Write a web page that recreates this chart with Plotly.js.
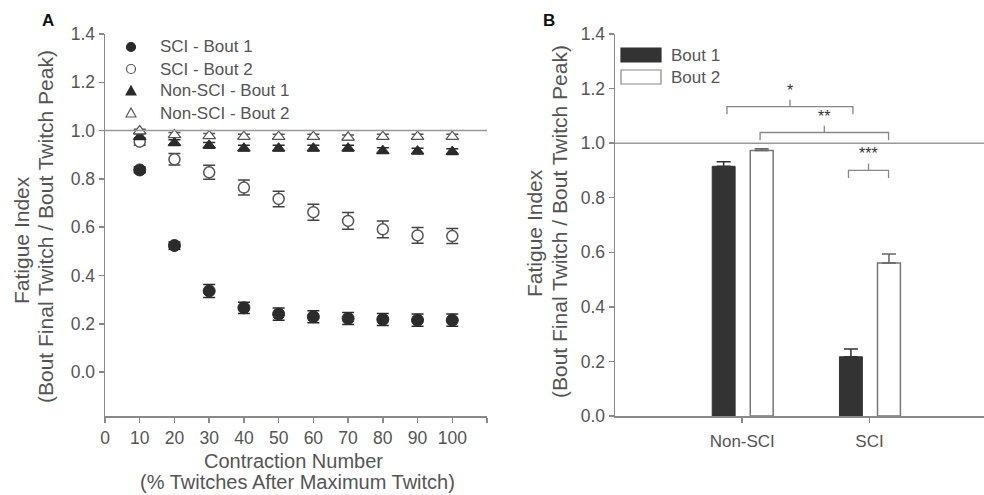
<!DOCTYPE html>
<html>
<head>
<meta charset="utf-8">
<script src="https://cdn.plot.ly/plotly-3.0.1.min.js"></script>
<style>html,body{margin:0;padding:0;background:#fff;}#chart{width:984px;height:495px;}</style>
</head>
<body>
<div id="chart"></div>
<script>
// Panel A data
const contraction = [10, 20, 30, 40, 50, 60, 70, 80, 90, 100];
const sciBout1 = [0.837, 0.524, 0.336, 0.266, 0.240, 0.229, 0.222, 0.218, 0.215, 0.215];
const sciBout1Err = [0.012, 0.015, 0.027, 0.023, 0.025, 0.025, 0.025, 0.025, 0.025, 0.025];
const sciBout2 = [0.954, 0.881, 0.827, 0.764, 0.717, 0.662, 0.626, 0.591, 0.566, 0.563];
const sciBout2Err = [0.015, 0.024, 0.029, 0.031, 0.032, 0.033, 0.035, 0.035, 0.033, 0.031];
const nonBout1 = [0.975, 0.950, 0.939, 0.927, 0.927, 0.927, 0.927, 0.917, 0.915, 0.913];
const nonBout1Err = [0.012, 0.012, 0.012, 0.012, 0.012, 0.012, 0.012, 0.012, 0.012, 0.012];
const nonBout2 = [0.998, 0.982, 0.978, 0.975, 0.975, 0.975, 0.972, 0.975, 0.975, 0.975];
const nonBout2Err = [0.008, 0.010, 0.010, 0.010, 0.010, 0.010, 0.010, 0.010, 0.010, 0.010];
const seriesNamesA = ['SCI - Bout 1', 'SCI - Bout 2', 'Non-SCI - Bout 1', 'Non-SCI - Bout 2'];
const xTickVals = [0, 10, 20, 30, 40, 50, 60, 70, 80, 90, 100, 110];
const xTickText = ['0', '10', '20', '30', '40', '50', '60', '70', '80', '90', '100', ''];
const yTickVals = [0, 0.2, 0.4, 0.6, 0.8, 1.0, 1.2, 1.4];
const xTitleA = ['Contraction Number', '(% Twitches After Maximum Twitch)'];
const yTitleLines = ['Fatigue Index', '(Bout Final Twitch / Bout Twitch Peak)'];

// Panel B data
const groups = ['Non-SCI', 'SCI'];
const seriesNamesB = ['Bout 1', 'Bout 2'];
const bout1 = [0.915, 0.217];
const bout1Err = [0.017, 0.029];
const bout2 = [0.973, 0.561];
const bout2Err = [0.006, 0.033];
// significance brackets
const brackets = [
  {x0: -0.12, x1: 0.87, y: 1.134, label: '*'},
  {x0: 0.14, x1: 1.15, y: 1.039, label: '**'},
  {x0: 0.835, x1: 1.15, y: 0.90, label: '***'}
];

const FONT = 'Arial, "Liberation Sans", sans-serif';
const AX = '#8a8a8a';
const TXT = '#555555';
const DARK = '#2b2b2b';
const W = 984, H = 495;
const px = v => v / W, py = v => 1 - v / H;

function errY(arr, color) {
  return {type: 'data', array: arr, visible: true, color: color, thickness: 1.5, width: 6};
}

const styleA = [
  {symbol: 'circle', size: 12, color: DARK, line: {color: DARK, width: 1}, err: DARK},
  {symbol: 'circle', size: 11, color: '#ffffff', line: {color: '#555', width: 1.5}, err: '#444'},
  {symbol: 'triangle-up', size: 11, color: DARK, line: {color: DARK, width: 1}, err: DARK},
  {symbol: 'triangle-up', size: 11, color: '#ffffff', line: {color: '#555', width: 1.2}, err: '#555'}
];
const yA = [sciBout1, sciBout2, nonBout1, nonBout2];
const eA = [sciBout1Err, sciBout2Err, nonBout1Err, nonBout2Err];

const traces = yA.map((ys, i) => ({
  x: contraction, y: ys, type: 'scatter', mode: 'markers', name: seriesNamesA[i], showlegend: false,
  marker: {symbol: styleA[i].symbol, size: styleA[i].size, color: styleA[i].color, line: styleA[i].line},
  error_y: errY(eA[i], styleA[i].err), xaxis: 'x', yaxis: 'y'
}));
traces.push(
  {x: groups, y: bout1, type: 'bar', name: seriesNamesB[0], showlegend: false,
   width: 0.18, offset: -0.236,
   marker: {color: '#333333', line: {color: '#333333', width: 1}},
   error_y: {type: 'data', array: bout1Err, arrayminus: [0, 0], symmetric: false, visible: true, color: '#333', thickness: 1.5, width: 7},
   xaxis: 'x2', yaxis: 'y2'},
  {x: groups, y: bout2, type: 'bar', name: seriesNamesB[1], showlegend: false,
   width: 0.18, offset: 0.063,
   marker: {color: '#ffffff', line: {color: '#777777', width: 1.5}},
   error_y: {type: 'data', array: bout2Err, arrayminus: [0, 0], symmetric: false, visible: true, color: '#666', thickness: 1.5, width: 7},
   xaxis: 'x2', yaxis: 'y2'}
);

const shapes = [
  {type: 'line', xref: 'x domain', yref: 'y', x0: 0, x1: 1, y0: 1, y1: 1, line: {color: '#999', width: 1.5}},
  {type: 'line', xref: 'x2 domain', yref: 'y2', x0: 0, x1: 1, y0: 1, y1: 1, line: {color: '#999', width: 1.5}}
];
const annotations = [
  {text: '<b>A</b>', xref: 'paper', yref: 'paper', x: px(40), y: py(20), xanchor: 'left', yanchor: 'middle', showarrow: false, font: {family: FONT, size: 17, color: '#111'}},
  {text: '<b>B</b>', xref: 'paper', yref: 'paper', x: px(541), y: py(20), xanchor: 'left', yanchor: 'middle', showarrow: false, font: {family: FONT, size: 17, color: '#111'}}
];

// axis titles as positioned text
const titleFont = {family: FONT, size: 20, color: TXT};
[[293, 461], [297, 482]].forEach((p, i) => {
  annotations.push({text: xTitleA[i], xref: 'paper', yref: 'paper', x: px(p[0]), y: py(p[1]), xanchor: 'center', yanchor: 'middle', showarrow: false, font: titleFont});
});
[[[21, 240], [45, 227]], [[535, 233], [559, 222]]].forEach(panel => {
  panel.forEach((p, i) => {
    annotations.push({text: yTitleLines[i], xref: 'paper', yref: 'paper', x: px(p[0]), y: py(p[1]), xanchor: 'center', yanchor: 'middle',
      textangle: -90, showarrow: false, font: {family: FONT, size: 21, color: TXT}});
  });
});

brackets.forEach(b => {
  const drop = 0.028;
  shapes.push({type: 'path', xref: 'x2', yref: 'y2',
    path: `M ${b.x0} ${b.y - drop} L ${b.x0} ${b.y} L ${b.x1} ${b.y} L ${b.x1} ${b.y - drop}`,
    line: {color: '#888', width: 1.3}});
  const xm = (b.x0 + b.x1) / 2;
  shapes.push({type: 'line', xref: 'x2', yref: 'y2', x0: xm, x1: xm, y0: b.y, y1: b.y + 0.025, line: {color: '#888', width: 1.3}});
  annotations.push({text: b.label, xref: 'x2', yref: 'y2', x: xm, y: b.y + 0.022, yanchor: 'bottom', showarrow: false,
    font: {family: FONT, size: 16, color: '#333'}});
});

// custom legend for panel A (marker glyphs drawn in pixels)
const legRowsA = [47, 69, 91, 113];
seriesNamesA.forEach((name, i) => {
  const cy = py(legRowsA[i]);
  const st = styleA[i];
  if (st.symbol === 'circle') {
    shapes.push({type: 'circle', xref: 'paper', yref: 'paper', xsizemode: 'pixel', ysizemode: 'pixel',
      xanchor: px(131), yanchor: cy, x0: -4.5, x1: 4.5, y0: -4.5, y1: 4.5,
      fillcolor: st.color, line: {color: st.line.color, width: 1.2}});
  } else {
    shapes.push({type: 'path', xref: 'paper', yref: 'paper', xsizemode: 'pixel', ysizemode: 'pixel',
      xanchor: px(131), yanchor: cy, path: 'M -5 -4 L 5 -4 L 0 5 Z',
      fillcolor: st.color, line: {color: st.line.color, width: 1.1}});
  }
  annotations.push({text: name, xref: 'paper', yref: 'paper', x: px(158), y: cy, xanchor: 'left', yanchor: 'middle', showarrow: false,
    font: {family: FONT, size: 17, color: TXT}});
});

// custom legend for panel B
const legRowsB = [55, 77];
const legFillB = [['#333333', '#333333'], ['#ffffff', '#888888']];
seriesNamesB.forEach((name, i) => {
  const y = legRowsB[i];
  shapes.push({type: 'rect', xref: 'paper', yref: 'paper', x0: px(621), x1: px(661), y0: py(y + 7), y1: py(y - 7),
    fillcolor: legFillB[i][0], line: {color: legFillB[i][1], width: 1.2}});
  annotations.push({text: name, xref: 'paper', yref: 'paper', x: px(669), y: py(y), xanchor: 'left', yanchor: 'middle', showarrow: false,
    font: {family: FONT, size: 17, color: TXT}});
});

const axisCommon = {showgrid: false, zeroline: false, showline: true, linecolor: AX, linewidth: 1.5,
  ticks: 'outside', ticklen: 5, tickwidth: 1.5, tickcolor: AX, tickfont: {family: FONT, size: 17.5, color: TXT}};

const layout = {
  width: W, height: H,
  margin: {l: 0, r: 0, t: 0, b: 0},
  paper_bgcolor: '#ffffff', plot_bgcolor: '#ffffff',
  font: {family: FONT, color: TXT},
  showlegend: false,
  xaxis: Object.assign({}, axisCommon, {domain: [px(105), px(487)], range: [0, 110], tickmode: 'array', tickvals: xTickVals, ticktext: xTickText, anchor: 'y'}),
  yaxis: Object.assign({}, axisCommon, {domain: [py(416), py(34)], range: [-0.182, 1.4], tickmode: 'array', tickvals: yTickVals, tickformat: '.1f', anchor: 'x'}),
  xaxis2: Object.assign({}, axisCommon, {domain: [px(615), 1], range: [-1, 1.9], type: 'category', anchor: 'y2',
    ticklabelstandoff: 4, tickfont: {family: FONT, size: 17, color: TXT}}),
  yaxis2: Object.assign({}, axisCommon, {domain: [py(416), py(34)], range: [0, 1.4], tickmode: 'array', tickvals: yTickVals, tickformat: '.1f', anchor: 'x2'}),
  shapes: shapes,
  annotations: annotations
};

Plotly.newPlot('chart', traces, layout, {displayModeBar: false, staticPlot: true});
</script>
</body>
</html>
